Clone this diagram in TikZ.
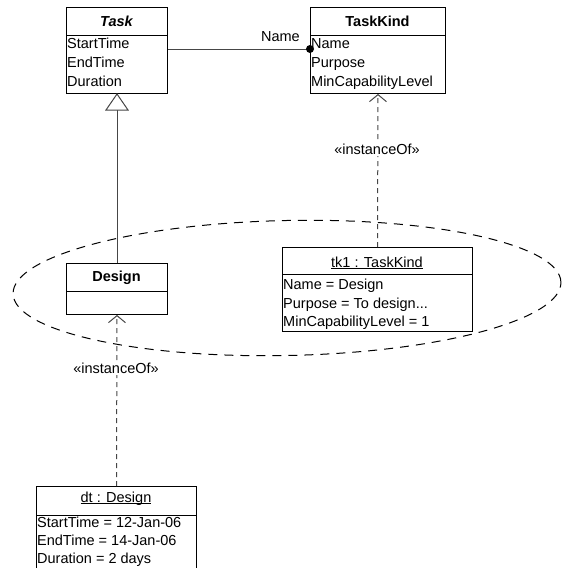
\documentclass[tikz,border=0pt]{standalone}
\usepackage{fontspec}
\setmainfont{Liberation Sans}
\usetikzlibrary{arrows.meta}
\definecolor{linkgray}{RGB}{70,70,70}
% underlined instance name, rule crossing the descenders
\newcommand\instname[1]{\setbox0\hbox{#1}\rlap{\rule[-2.2pt]{\wd0}{0.9pt}}\box0}

\begin{document}
\begin{tikzpicture}[x=1pt,y=-1pt,
  font=\fontsize{14.5}{18}\selectfont,
  umlbox/.style={draw=black, line width=1pt, fill=white, inner sep=0pt, anchor=north west},
  divider/.style={line width=1pt},
  attr/.style={anchor=base west, inner sep=0pt},
  head/.style={anchor=base, inner sep=0pt, font=\fontsize{14.5}{18}\selectfont\bfseries},
  headi/.style={head, font=\fontsize{14.5}{18}\selectfont\bfseries\itshape},
  insthead/.style={anchor=base, inner sep=0pt},
  link/.style={line width=1pt, draw=linkgray},
  depend/.style={link, dash pattern=on 5pt off 4pt,
    -{Straight Barb[length=7pt,width=17pt,line width=1pt]}},
  stereo/.style={fill=white, inner sep=1.5pt},
  grouping/.style={line width=1pt, dash pattern=on 9pt off 7pt},
]
\useasboundingbox (0,0) rectangle (562,568);

% dashed grouping ellipse around the specialisation level
\draw[grouping, rotate around={1.2:(287,288)}] (287,288) ellipse [x radius=274pt, y radius=67.5pt];

% ---- classes ----
\node[umlbox, minimum width=101pt, minimum height=86pt] (task) at (66,7) {};
\draw[divider] (66,35) -- (167,35);
\node[headi] (taskT) at (116.5,26) {Task};
\node[attr] (taskA1) at (67,48) {StartTime};
\node[attr] (taskA2) at (67,67) {EndTime};
\node[attr] (taskA3) at (67,86) {Duration};

\node[umlbox, minimum width=135pt, minimum height=86pt] (taskkind) at (310,7) {};
\draw[divider] (310,35) -- (445,35);
\node[head] (kindT) at (377.5,26) {TaskKind};
\node[attr] (kindA1) at (311,48) {Name};
\node[attr] (kindA2) at (311,67) {Purpose};
\node[attr] (kindA3) at (311,86) {MinCapabilityLevel};

\node[umlbox, minimum width=101pt, minimum height=51pt] (design) at (66,263) {};
\draw[divider] (66,291) -- (167,291);
\node[head] (designT) at (116.5,281) {Design};

% ---- instances ----
\node[umlbox, minimum width=190pt, minimum height=84pt] (tk1) at (282,247) {};
\draw[divider] (282,274) -- (472,274);
\node[insthead] (tk1T) at (377,267) {\instname{tk1 : TaskKind}};
\node[attr] (tk1A1) at (283,289) {Name = Design};
\node[attr] (tk1A2) at (283,308) {Purpose = To design...};
\node[attr] (tk1A3) at (283,326) {MinCapabilityLevel = 1};

\node[umlbox, minimum width=160pt, minimum height=90pt] (dt) at (36,486) {};
\draw[divider] (36,515) -- (196,515);
\node[insthead] (dtT) at (116,502) {\instname{dt : Design}};
\node[attr] (dtA1) at (37,527) {StartTime = 12-Jan-06};
\node[attr] (dtA2) at (37,545) {EndTime = 14-Jan-06};
\node[attr] (dtA3) at (37,563) {Duration = 2 days};

% ---- association Task -> TaskKind with qualifier dot ----
\coordinate (nameend) at (310,49);
\draw[link] (task.east |- nameend) -- (nameend);
\fill[black] (nameend) circle (4pt);
\node[anchor=base east, inner sep=0pt] (namelbl) at (300,41) {Name};

% ---- generalisation Design -> Task ----
\coordinate (genbase) at ([yshift=-16pt]task.south);
\draw[link] (design.north) -- (genbase);
\draw[link, fill=white, line join=miter] (task.south) -- ([xshift=-11pt]genbase) -- ([xshift=11pt]genbase) -- cycle;

% ---- instanceOf dependencies ----
\draw[depend] (tk1.north) -- (taskkind.south);
\node[stereo] (inst1) at (377,149) {«instanceOf»};
\draw[depend] (dt.north) -- (design.south);
\node[stereo] (inst2) at (116,368) {«instanceOf»};
\end{tikzpicture}
\end{document}
